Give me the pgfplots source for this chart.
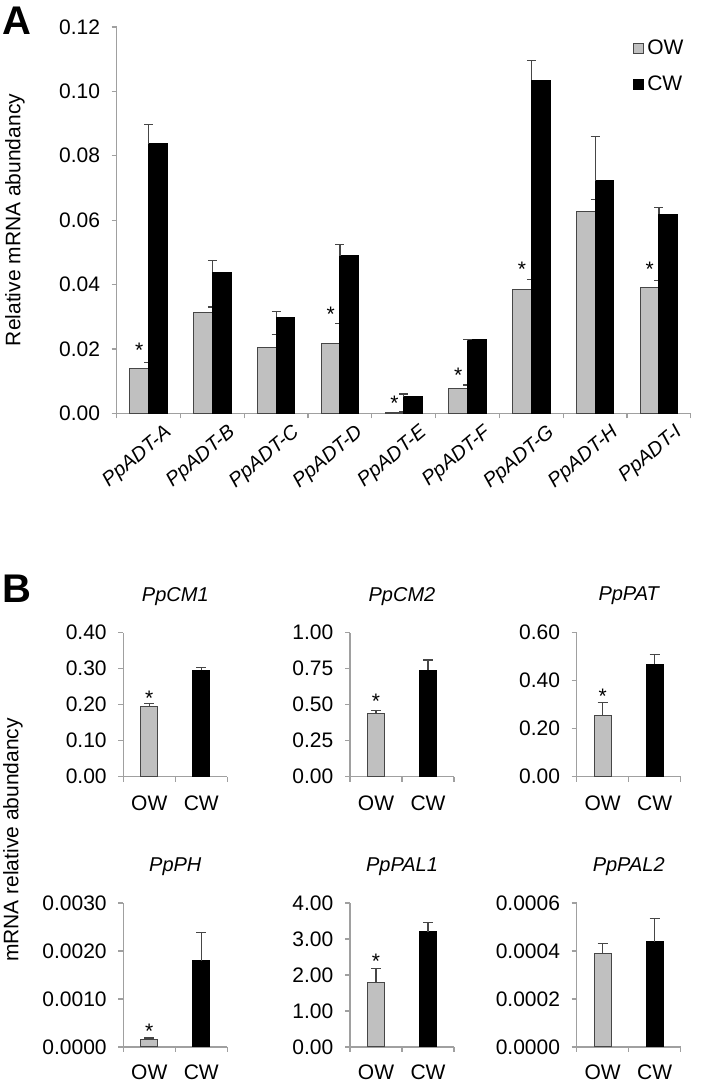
\documentclass[border=0pt]{standalone}
\usepackage{pgfplots}
\pgfplotsset{compat=1.18}
\usepackage{fontspec}
\setmainfont{Liberation Sans}
\definecolor{owgray}{RGB}{192,192,192}
\definecolor{axgray}{RGB}{160,160,160}
\definecolor{edgegray}{RGB}{70,70,70}
\pgfplotsset{
  sqlegend/.style={legend image code/.code={\draw[##1] (0pt,-2.5pt) rectangle (5pt,2.5pt);}},
  common/.style={
    scale only axis,
    axis x line*=bottom, axis y line*=left,
    axis line style={draw=axgray, line width=0.6pt},
    tick style={draw=axgray, line width=0.6pt},
    tick align=outside,
    major tick length=0pt, minor tick length=2.5pt,
    /pgf/number format/assume math mode=true,
    scaled y ticks=false,
    clip=false,
    yticklabel style={xshift=-4.8pt},
  },
  bpanel/.style={
    common, anchor=south west, width=52pt, height=72pt,
    xmin=0, xmax=2, xtick={0.5,1.5}, xticklabels={OW,CW}, minor xtick={0,1,2},
    xticklabel style={anchor=center, yshift=-13.2pt},
    title style={at={(0.5,1)}, anchor=center, yshift=12.3pt, font=\itshape},
  },
  owbar/.style={ybar, bar width=8.5pt, fill=owgray, draw=edgegray, line width=0.5pt,
    error bars/y dir=plus, error bars/y explicit,
    error bars/error bar style={edgegray, line width=0.6pt},
    error bars/error mark options={rotate=90, mark size=2.5pt, edgegray, line width=0.6pt}},
  cwbar/.style={ybar, bar width=8.5pt, fill=black, draw=black, line width=0.5pt,
    error bars/y dir=plus, error bars/y explicit,
    error bars/error bar style={edgegray, line width=0.6pt},
    error bars/error mark options={rotate=90, mark size=2.5pt, edgegray, line width=0.6pt}},
  star/.style={draw=none, mark=none, forget plot, nodes near coords={*},
    every node near coord/.append style={anchor=base, yshift=-6.1pt, inner sep=0pt}},
}
\begin{document}
\begin{tikzpicture}[font=\fontsize{10.5}{12.6}\selectfont]
\useasboundingbox (0,0) rectangle (351.5pt,541pt);

% ---------------- Panel A ----------------
\begin{axis}[common, at={(58.35pt,334.35pt)}, anchor=south west,
  width=287.1pt, height=193.15pt,
  xmin=0, xmax=9, ymin=0, ymax=0.12,
  xtick={0.5,1.5,2.5,3.5,4.5,5.5,6.5,7.5,8.5},
  xticklabels={PpADT-A,PpADT-B,PpADT-C,PpADT-D,PpADT-E,PpADT-F,PpADT-G,PpADT-H,PpADT-I},
  minor xtick={0,1,2,3,4,5,6,7,8,9},
  ytick={0,0.02,0.04,0.06,0.08,0.1,0.12},
  minor ytick={0,0.02,0.04,0.06,0.08,0.1,0.12},
  yticklabel style={/pgf/number format/.cd, fixed, fixed zerofill, precision=2},
  xticklabel style={rotate=40, anchor=north east, font=\itshape, inner sep=1pt, yshift=-7.5pt, xshift=3.5pt},
  legend style={at={(0.899,0.975)}, anchor=north west, draw=none, fill=none,
    inner sep=0pt, row sep=6pt, legend cell align=left,
    nodes={inner sep=1.5pt}},
]
\addplot[ybar, bar width=9.35pt, bar shift=-4.675pt, fill=owgray, draw=edgegray, line width=0.5pt,
  sqlegend,
  error bars/y dir=plus, error bars/y explicit,
  error bars/error bar style={edgegray, line width=0.6pt},
  error bars/error mark options={rotate=90, mark size=2.25pt, edgegray, line width=0.6pt}]
coordinates {
 (0.5,0.0138) +- (0,0.0020)
 (1.5,0.0313) +- (0,0.0017)
 (2.5,0.0204) +- (0,0.0042)
 (3.5,0.0217) +- (0,0.0062)
 (4.5,0.0003) +- (0,0.0001)
 (5.5,0.0077) +- (0,0.0011)
 (6.5,0.0385) +- (0,0.0031)
 (7.5,0.0627) +- (0,0.0037)
 (8.5,0.0392) +- (0,0.0021)
};
\addlegendentry{OW}
\addplot[ybar, bar width=9.35pt, bar shift=4.675pt, fill=black, draw=black, line width=0.5pt,
  sqlegend,
  error bars/y dir=plus, error bars/y explicit,
  error bars/error bar style={edgegray, line width=0.6pt},
  error bars/error mark options={rotate=90, mark size=2.25pt, edgegray, line width=0.6pt}]
coordinates {
 (0.5,0.0838) +- (0,0.0059)
 (1.5,0.0438) +- (0,0.0036)
 (2.5,0.0298) +- (0,0.0018)
 (3.5,0.0490) +- (0,0.0035)
 (4.5,0.0052) +- (0,0.0008)
 (5.5,0.0228) +- (0,0.0001)
 (6.5,0.1034) +- (0,0.0062)
 (7.5,0.0723) +- (0,0.0137)
 (8.5,0.0618) +- (0,0.0022)
};
\addlegendentry{CW}
\addplot[star] coordinates {
 (0.3535,0.0212) (3.3535,0.0323) (4.3535,0.0047) (5.3535,0.0135) (6.3535,0.0464) (8.3535,0.0464)
};
\end{axis}

% ---------------- Panel B, row 1 ----------------
\begin{axis}[bpanel, at={(61.65pt,152.65pt)}, title={PpCM1},
  ymin=0, ymax=0.4, ytick={0,0.1,0.2,0.3,0.4}, minor ytick={0,0.1,0.2,0.3,0.4},
  yticklabel style={/pgf/number format/.cd, fixed, fixed zerofill, precision=2}]
\addplot[owbar] coordinates {(0.5,0.196) +- (0,0.008)};
\addplot[cwbar] coordinates {(1.5,0.296) +- (0,0.008)};
\addplot[star] coordinates {(0.5,0.233)};
\end{axis}

\begin{axis}[bpanel, at={(175pt,152.65pt)}, title={PpCM2},
  ymin=0, ymax=1, ytick={0,0.25,0.5,0.75,1}, minor ytick={0,0.25,0.5,0.75,1},
  yticklabel style={/pgf/number format/.cd, fixed, fixed zerofill, precision=2}]
\addplot[owbar] coordinates {(0.5,0.440) +- (0,0.021)};
\addplot[cwbar] coordinates {(1.5,0.738) +- (0,0.072)};
\addplot[star] coordinates {(0.5,0.556)};
\end{axis}

\begin{axis}[bpanel, at={(288.35pt,152.65pt)}, title={PpPAT},
  ymin=0, ymax=0.6, ytick={0,0.2,0.4,0.6}, minor ytick={0,0.2,0.4,0.6},
  yticklabel style={/pgf/number format/.cd, fixed, fixed zerofill, precision=2}]
\addplot[owbar] coordinates {(0.5,0.256) +- (0,0.052)};
\addplot[cwbar] coordinates {(1.5,0.469) +- (0,0.041)};
\addplot[star] coordinates {(0.5,0.357)};
\end{axis}

% ---------------- Panel B, row 2 ----------------
\begin{axis}[bpanel, at={(61.65pt,17.5pt)}, title={PpPH},
  xticklabel style={yshift=0.8pt},
  ymin=0, ymax=0.003, ytick={0,0.001,0.002,0.003}, minor ytick={0,0.001,0.002,0.003},
  yticklabel style={/pgf/number format/.cd, fixed, fixed zerofill, precision=4}]
\addplot[owbar] coordinates {(0.5,0.000153) +- (0,0.000035)};
\addplot[cwbar] coordinates {(1.5,0.00180) +- (0,0.00059)};
\addplot[star] coordinates {(0.5,0.00043)};
\end{axis}

\begin{axis}[bpanel, at={(175pt,17.5pt)}, title={PpPAL1},
  xticklabel style={yshift=0.8pt},
  ymin=0, ymax=4, ytick={0,1,2,3,4}, minor ytick={0,1,2,3,4},
  yticklabel style={/pgf/number format/.cd, fixed, fixed zerofill, precision=2}]
\addplot[owbar] coordinates {(0.5,1.793) +- (0,0.397)};
\addplot[cwbar] coordinates {(1.5,3.20) +- (0,0.25)};
\addplot[star] coordinates {(0.5,2.53)};
\end{axis}

\begin{axis}[bpanel, at={(288.35pt,17.5pt)}, title={PpPAL2},
  xticklabel style={yshift=0.8pt},
  ymin=0, ymax=0.0006, ytick={0,0.0002,0.0004,0.0006}, minor ytick={0,0.0002,0.0004,0.0006},
  yticklabel style={/pgf/number format/.cd, fixed, fixed zerofill, precision=4}]
\addplot[owbar] coordinates {(0.5,0.000389) +- (0,0.000041)};
\addplot[cwbar] coordinates {(1.5,0.000439) +- (0,0.000095)};
\end{axis}

% ---------------- labels ----------------
\node[font=\fontsize{20}{22}\selectfont\bfseries] at (8.6pt,530.5pt) {A};
\node[font=\fontsize{20}{22}\selectfont\bfseries] at (8.6pt,246.5pt) {B};
\node[rotate=90] at (7.5pt,431pt) {Relative mRNA abundancy};
\node[rotate=90] at (6.5pt,121pt) {mRNA relative abundancy};
\end{tikzpicture}
\end{document}
